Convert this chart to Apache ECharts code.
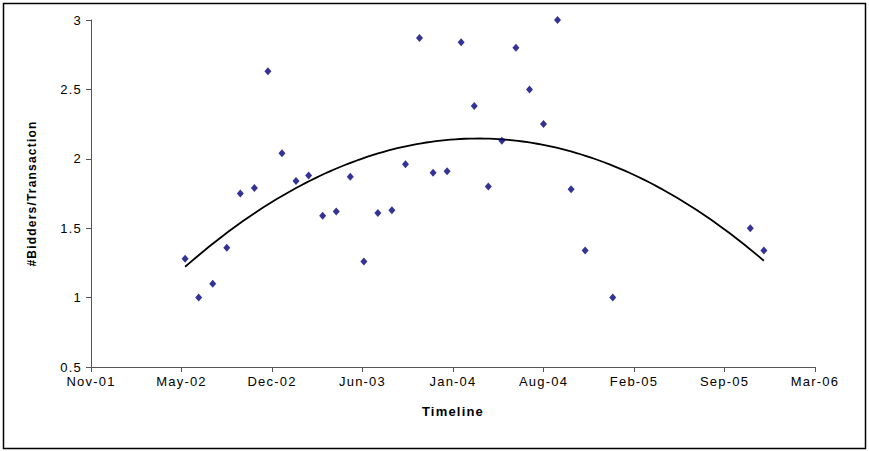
<!DOCTYPE html>
<html>
<head>
<meta charset="utf-8">
<script src="https://cdn.jsdelivr.net/npm/echarts@6/dist/echarts.min.js"></script>
<style>
  html, body { margin: 0; padding: 0; background: #fff; }
  #chart { width: 869px; height: 451px; }
  #chart text { letter-spacing: 1.2px; }
</style>
</head>
<body>
<div id="chart"></div>
<script>
// Month of each observation (first of month)
const months = [
  '2002-06','2002-07','2002-08','2002-09','2002-10','2002-11','2002-12',
  '2003-01','2003-02','2003-03','2003-04','2003-05','2003-06','2003-07',
  '2003-08','2003-09','2003-10','2003-11','2003-12','2004-01','2004-02',
  '2004-03','2004-04','2004-05','2004-06','2004-07','2004-08','2004-09',
  '2004-10','2004-11','2005-01','2005-11','2005-12'
];
// #Bidders / Transaction
const biddersPerTransaction = [
  1.28, 1.00, 1.10, 1.36, 1.75, 1.79, 2.63,
  2.04, 1.84, 1.88, 1.59, 1.62, 1.87, 1.26,
  1.61, 1.63, 1.96, 2.87, 1.90, 1.91, 2.84,
  2.38, 1.80, 2.13, 2.80, 2.50, 2.25, 3.00,
  1.78, 1.34, 1.00, 1.50, 1.34
];
// Axis settings (Excel date serials: Nov-01 .. Mar-06, step 200 days)
const xMin = 37200, xMax = 38800, xStep = 200;
const yMin = 0.5, yMax = 3, yStep = 0.5;
const monthNames = ['Jan','Feb','Mar','Apr','May','Jun','Jul','Aug','Sep','Oct','Nov','Dec'];

function toSerial(ym) {
  const [y, m] = ym.split('-').map(Number);
  return Date.UTC(y, m - 1, 1) / 86400000 + 25569;
}
function fmtSerial(v) {
  const d = new Date((v - 25569) * 86400000);
  return monthNames[d.getUTCMonth()] + '-' + String(d.getUTCFullYear() % 100).padStart(2, '0');
}

const xs = months.map(toSerial);
const points = xs.map((x, i) => [x, biddersPerTransaction[i]]);

// Polynomial (order 2) least-squares trendline, as in the original
function polyFit2(x, y) {
  const n = x.length;
  const mx = x.reduce((a, b) => a + b, 0) / n;
  const u = x.map(v => (v - mx) / 100);
  let S = [0, 0, 0, 0, 0], T = [0, 0, 0];
  for (let i = 0; i < n; i++) {
    let p = 1;
    for (let k = 0; k < 5; k++) { S[k] += p; if (k < 3) T[k] += p * y[i]; p *= u[i]; }
  }
  const A = [[S[0], S[1], S[2], T[0]], [S[1], S[2], S[3], T[1]], [S[2], S[3], S[4], T[2]]];
  for (let c = 0; c < 3; c++) {
    for (let r = c + 1; r < 3; r++) {
      const f = A[r][c] / A[c][c];
      for (let k = c; k < 4; k++) A[r][k] -= f * A[c][k];
    }
  }
  const b = [0, 0, 0];
  for (let r = 2; r >= 0; r--) {
    let s = A[r][3];
    for (let k = r + 1; k < 3; k++) s -= A[r][k] * b[k];
    b[r] = s / A[r][r];
  }
  return v => { const t = (v - mx) / 100; return b[0] + b[1] * t + b[2] * t * t; };
}
const trend = polyFit2(xs, biddersPerTransaction);
const trendLine = [];
const x0 = xs[0], x1 = xs[xs.length - 1];
for (let i = 0; i <= 120; i++) {
  const x = x0 + (x1 - x0) * i / 120;
  trendLine.push([x, trend(x)]);
}

const chart = echarts.init(document.getElementById('chart'), null, { renderer: 'svg' });
const labelFont = { color: '#000', fontFamily: 'Liberation Sans, Arial, sans-serif', fontSize: 13 };
chart.setOption({
  animation: false,
  backgroundColor: '#fff',
  grid: { left: 91, right: 54, top: 20, bottom: 84 },
  graphic: [{
    type: 'rect', silent: true,
    shape: { x: 3.5, y: 3.5, width: 862, height: 445 },
    style: { fill: 'none', stroke: '#000', lineWidth: 1.5 }
  }],
  xAxis: {
    type: 'value', min: xMin, max: xMax, interval: xStep,
    name: 'Timeline', nameLocation: 'middle', nameGap: 38,
    nameTextStyle: { color: '#000', fontFamily: 'Liberation Sans, Arial, sans-serif', fontSize: 13, fontWeight: 'bold' },
    axisLine: { show: true, lineStyle: { color: '#555', width: 1 } },
    axisTick: { show: true, inside: false, length: 5, lineStyle: { color: '#555' } },
    axisLabel: Object.assign({ margin: 8, formatter: fmtSerial }, labelFont),
    splitLine: { show: false }
  },
  yAxis: {
    type: 'value', min: yMin, max: yMax, interval: yStep,
    name: '#Bidders/Transaction', nameLocation: 'middle', nameGap: 53, nameRotate: 90,
    nameTextStyle: { color: '#000', fontFamily: 'Liberation Sans, Arial, sans-serif', fontSize: 12, fontWeight: 'bold' },
    axisLine: { show: true, lineStyle: { color: '#555', width: 1 } },
    axisTick: { show: true, inside: false, length: 5, lineStyle: { color: '#555' } },
    axisLabel: Object.assign({ margin: 9 }, labelFont),
    splitLine: { show: false }
  },
  series: [
    {
      type: 'scatter', data: points, symbol: 'diamond', symbolSize: [7, 8],
      itemStyle: { color: '#00007a' }, z: 3
    },
    {
      type: 'line', data: trendLine, showSymbol: false, smooth: false,
      lineStyle: { color: '#000', width: 1.8 }, z: 2
    }
  ]
});
</script>
</body>
</html>
